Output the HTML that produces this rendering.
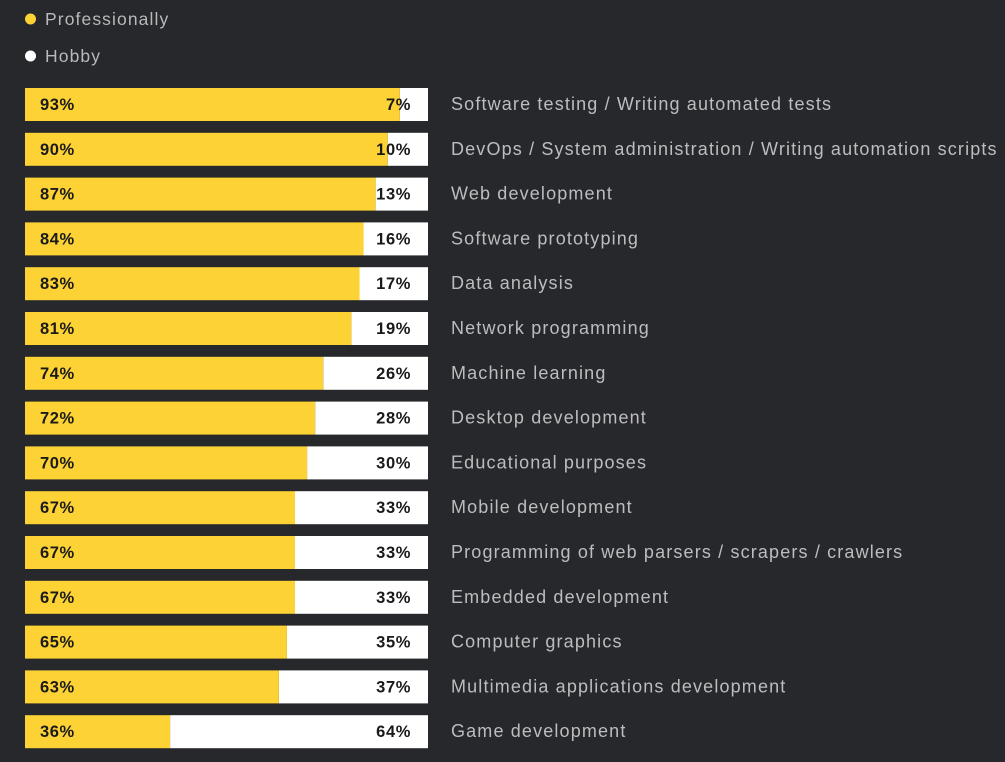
<!DOCTYPE html>
<html><head><meta charset="utf-8">
<style>
html,body{margin:0;padding:0;background:#27282c;}
body{width:1005px;height:757px;overflow:hidden;font-family:"Liberation Sans",sans-serif;}
</style></head>
<body>
<svg id="chart" width="1005" height="757" xmlns="http://www.w3.org/2000/svg">
  <rect width="1005" height="757" fill="#27282c"/>
  <g>
    <g>
      <circle cx="30.5" cy="19" r="5.5" fill="#fdd234"/>
      <text x="45" y="25" font-size="17.5" fill="#b9b9bb" letter-spacing="1.1">Professionally</text>
    </g>
    <g>
      <circle cx="30.5" cy="56" r="5.5" fill="#ffffff"/>
      <text x="45" y="62" font-size="17.5" fill="#b9b9bb" letter-spacing="1.1">Hobby</text>
    </g>
  </g>
  <g id="bars"></g>
</svg>
<script>
const categories = ["Software testing / Writing automated tests","DevOps / System administration / Writing automation scripts","Web development","Software prototyping","Data analysis","Network programming","Machine learning","Desktop development","Educational purposes","Mobile development","Programming of web parsers / scrapers / crawlers","Embedded development","Computer graphics","Multimedia applications development","Game development"];
const professionally = [93,90,87,84,83,81,74,72,70,67,67,67,65,63,36];
const hobby = [7,10,13,16,17,19,26,28,30,33,33,33,35,37,64];

const NS = "http://www.w3.org/2000/svg";
const x0 = 25, barW = 403, y0 = 88, pitch = 44.8, barH = 33;
const xScale = v => v / 100 * barW;
const yPos = i => y0 + i * pitch;
const g = document.getElementById("bars");
function mk(tag, attrs){const e=document.createElementNS(NS,tag);for(const k in attrs)e.setAttribute(k,attrs[k]);return e;}
categories.forEach((c, i) => {
  const y = yPos(i);
  const row = mk("g", {});
  
  
  const total = professionally[i] + hobby[i];
  const pw = xScale(professionally[i] / total * 100);
  const hb = mk("rect", {x:x0 + pw, y:y, width:barW - pw, height:barH, fill:"#ffffff"});
  
  
  const pb = mk("rect", {x:x0, y:y, width:pw, height:barH, fill:"#fdd234"});
  
  
  const pl = mk("text", {x:40, y:y + 22, "font-size":16.5, "font-weight":"bold", fill:"#1a1a1a", "letter-spacing":"0.6"});
  pl.textContent = professionally[i] + "%";
  
  
  const hl = mk("text", {x:411, y:y + 22, "font-size":16.5, "font-weight":"bold", fill:"#1a1a1a", "text-anchor":"end", "letter-spacing":"0.6"});
  hl.textContent = hobby[i] + "%";
  
  
  const lb = mk("text", {x:451, y:y + 22, "font-size":18, "font-weight":"normal", fill:"#bdbdbf", "letter-spacing":"1.15"});
  lb.textContent = c;
  
  
  row.append(hb, pb, pl, hl, lb);
  g.appendChild(row);
});
</script>
</body></html>
